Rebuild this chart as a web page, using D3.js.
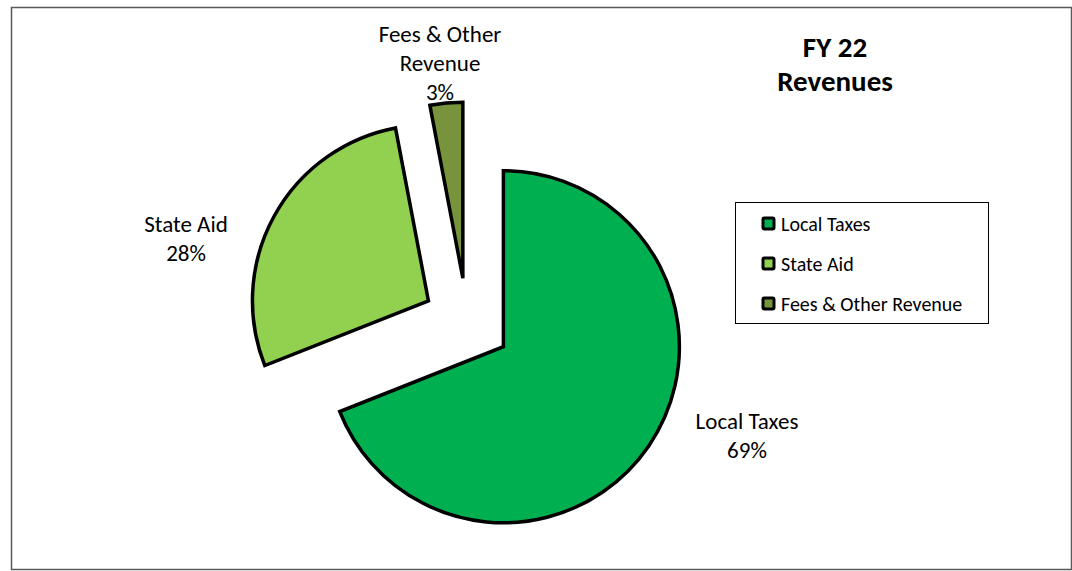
<!DOCTYPE html>
<html>
<head>
<meta charset="utf-8">
<script src="https://cdn.jsdelivr.net/npm/d3@7"></script>
<style>
  body { margin: 0; background: #fff; }
  svg text { font-family: Carlito, Calibri, Lato, sans-serif; fill: #000; }
</style>
</head>
<body>
<div id="chart"></div>
<script>
// data
var categories = ["Local Taxes", "State Aid", "Fees & Other Revenue"];
var shares = [69, 28, 3];
var pctLabels = ["69%", "28%", "3%"];
var labelLines = [["Local Taxes"], ["State Aid"], ["Fees & Other", "Revenue"]];
var colors = ["#00B050", "#92D050", "#77933C"];

var width = 1072, height = 571;
var svg = d3.select("#chart")
  .append("svg")
    .attr("width", width)
    .attr("height", height);

// outer frame
svg.append("rect")
  .attr("x", 11.5).attr("y", 7.5)
  .attr("width", 1060).attr("height", 562)
  .attr("fill", "none")
  .attr("stroke", "#595959")
  .attr("stroke-width", 1.5);

var cx = 467, cy = 322, radius = 176, explode = 44;

var pie = d3.pie().sort(null).value(function(d) { return d; });
var arcs = pie(shares);
var arc = d3.arc().innerRadius(0).outerRadius(radius);

function offset(d, r) {
  var a = (d.startAngle + d.endAngle) / 2;
  return [Math.sin(a) * r, -Math.cos(a) * r];
}

var g = svg.append("g").attr("transform", "translate(" + cx + "," + cy + ")");

g.selectAll("path.slice")
  .data(arcs)
  .enter()
  .append("path")
    .attr("class", "slice")
    .attr("d", arc)
    .attr("transform", function(d) { var o = offset(d, explode); return "translate(" + o[0] + "," + o[1] + ")"; })
    .attr("fill", function(d, i) { return colors[i]; })
    .attr("stroke", "#000")
    .attr("stroke-width", 3.5)
    .attr("stroke-linejoin", "miter");

// data labels (placed outside, best-fit style)
var labelPos = [[280, 113], [-281, -84], [-27, -259]];
var lineH = 29;
arcs.forEach(function(d, i) {
  var lines = labelLines[i].concat([pctLabels[i]]);
  var t = g.append("text")
    .attr("text-anchor", "middle")
    .style("font-size", "23px");
  var y0 = labelPos[i][1] - (lines.length - 1) * lineH / 2;
  lines.forEach(function(s, j) {
    t.append("tspan")
      .attr("x", labelPos[i][0])
      .attr("y", y0 + j * lineH)
      .attr("dy", "0.35em")
      .text(s);
  });
});

// title
var title = svg.append("text")
  .attr("text-anchor", "middle")
  .style("font-size", "29px")
  .style("font-weight", "bold");
title.append("tspan").attr("x", 835).attr("y", 57).text("FY 22");
title.append("tspan").attr("x", 835).attr("y", 91).text("Revenues");

// legend
var legend = svg.append("g").attr("transform", "translate(735.5,202.5)");
legend.append("rect")
  .attr("width", 253).attr("height", 121)
  .attr("fill", "#fff")
  .attr("stroke", "#000")
  .attr("stroke-width", 1);

var ly = d3.scalePoint().domain(categories).range([21, 101]);
var item = legend.selectAll("g.item")
  .data(categories)
  .enter()
  .append("g")
    .attr("class", "item")
    .attr("transform", function(d) { return "translate(0," + ly(d) + ")"; });
item.append("rect")
  .attr("x", 27.5).attr("y", -5.5)
  .attr("width", 11).attr("height", 11)
  .attr("rx", 1.5)
  .attr("fill", function(d, i) { return colors[i]; })
  .attr("stroke", "#000")
  .attr("stroke-width", 3);
item.append("text")
  .attr("x", 45.5)
  .attr("y", 0)
  .attr("dy", "0.35em")
  .style("font-size", "20px")
  .text(function(d) { return d; });
</script>
</body>
</html>
